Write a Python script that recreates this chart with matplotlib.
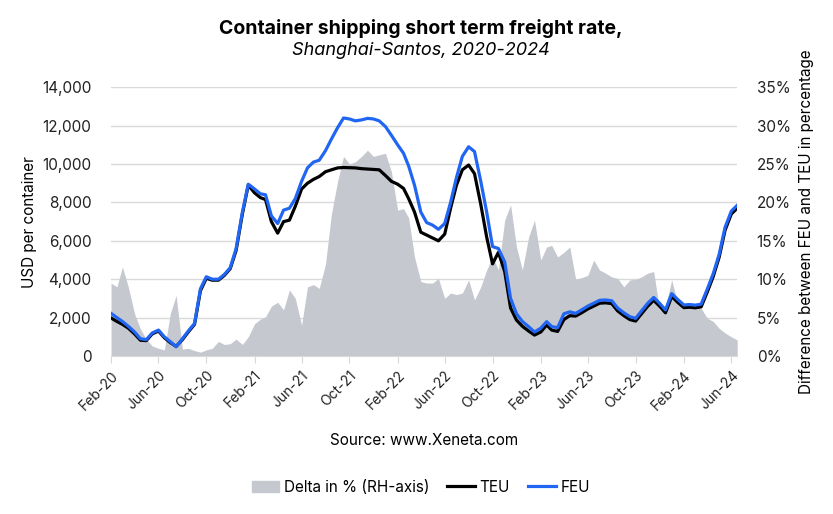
import matplotlib
matplotlib.use('Agg')
import matplotlib.pyplot as plt
import matplotlib.dates as mdates
from matplotlib.patches import Patch
from matplotlib.lines import Line2D
from matplotlib.ticker import FuncFormatter, MultipleLocator
import pandas as pd

plt.rcParams['font.family'] = ['Inter', 'DejaVu Sans']

# ========== data (semi-monthly, Feb-2020 .. Jun-2024) ==========
months = pd.date_range('2020-02-01', '2024-06-01', freq='MS')
dates = sorted(list(months) + list(months + pd.Timedelta(days=15)))

feu = [2220, 2000, 1800, 1550, 1250, 900, 850, 1200, 1350, 1000,
       750, 480, 900, 1300, 1700, 3500, 4130, 4000, 4000, 4250,
       4600, 5600, 7500, 8950, 8700, 8450, 8400, 7300, 6900, 7600,
       7700, 8200, 9100, 9800, 10100, 10200, 10700, 11300, 11900, 12400,
       12350, 12250, 12300, 12380, 12350, 12250, 11950, 11500, 11000, 10560,
       9900, 8900, 7500, 6950, 6820, 6600, 6900, 8000, 9300, 10400,
       10900, 10650, 9100, 7500, 5700, 5600, 4900, 3000, 2200, 1800,
       1530, 1250, 1450, 1790, 1530, 1480, 2200, 2300, 2220, 2400,
       2600, 2750, 2900, 2920, 2880, 2500, 2250, 2050, 1960, 2350,
       2750, 3050, 2750, 2400, 3250, 2950, 2660, 2680, 2650, 2700,
       3500, 4300, 5300, 6700, 7550, 7850]

teu = [1980, 1800, 1650, 1450, 1150, 820, 800, 1150, 1300, 950,
       700, 500, 850, 1250, 1650, 3400, 4050, 3950, 3950, 4200,
       4550, 5500, 7400, 8900, 8500, 8250, 8150, 7000, 6400, 7000,
       7080, 7800, 8700, 9000, 9200, 9350, 9600, 9700, 9800, 9820,
       9810, 9800, 9760, 9740, 9720, 9700, 9400, 9100, 8950, 8730,
       8200, 7500, 6450, 6300, 6150, 6000, 6350, 7700, 8900, 9700,
       9950, 9500, 7900, 6200, 4800, 5400, 4400, 2500, 1875, 1550,
       1300, 1090, 1250, 1615, 1350, 1280, 1900, 2100, 2080, 2250,
       2450, 2600, 2750, 2770, 2730, 2350, 2100, 1900, 1820, 2200,
       2600, 2900, 2600, 2250, 3100, 2800, 2520, 2540, 2510, 2560,
       3350, 4150, 5150, 6550, 7400, 7700]

delta = [9.5, 9.0, 11.6, 9.0, 5.5, 3.5, 2.2, 1.3, 1.0, 0.8,
         5.5, 7.9, 0.9, 1.0, 0.7, 0.5, 0.8, 1.0, 1.9, 1.5,
         1.6, 2.2, 1.5, 2.5, 4.2, 4.8, 5.1, 6.5, 7.0, 6.0,
         8.6, 7.5, 4.0, 9.0, 9.3, 8.8, 12.0, 18.5, 22.8, 26.0,
         25.0, 25.3, 26.0, 26.8, 26.0, 26.2, 26.4, 24.0, 19.0, 19.2,
         18.0, 12.9, 9.7, 9.5, 9.5, 10.1, 7.5, 8.2, 8.0, 8.2,
         9.9, 7.3, 9.0, 11.2, 12.9, 11.2, 17.7, 19.7, 14.2, 11.2,
         15.5, 17.7, 12.5, 14.2, 14.4, 12.9, 13.5, 14.2, 10.0, 10.2,
         10.5, 12.5, 11.2, 10.8, 10.3, 10.1, 9.0, 9.9, 10.0, 10.3,
         10.8, 11.0, 6.0, 6.5, 9.9, 6.9, 6.6, 6.6, 6.6, 6.2,
         4.9, 4.5, 3.6, 3.0, 2.5, 2.1]

xticks = pd.date_range('2020-02-01', '2024-06-01', freq='4MS')

# ========== plot ==========
fig = plt.figure(figsize=(8.33, 5.14), dpi=100)
ax = fig.add_axes([0.1333, 0.3074, 0.7517, 0.5228])
ax2 = ax.twinx()
ax.set_zorder(ax2.get_zorder() + 1)
ax.patch.set_visible(False)

grey = '#c5c8cf'
blue = '#2166f3'

# 差值面积 (右轴)
ax2.fill_between(dates, 0, delta, color=grey, linewidth=0, zorder=2)
ax2.set_ylim(0, 35)
ax2.yaxis.set_major_locator(MultipleLocator(5))
ax2.yaxis.set_major_formatter(FuncFormatter(lambda v, p: f'{v:.0f}%'))
ax2.grid(axis='y', color='#d9d9d9', linewidth=1, zorder=0)
ax2.set_axisbelow(True)
ax2.set_ylabel('Difference between FEU and TEU in percentage', fontsize=11, labelpad=6)

# 运价线 (左轴)
ax.plot(dates, teu, color='black', linewidth=2.3, zorder=3)
ax.plot(dates, feu, color=blue, linewidth=2.3, zorder=4)
ax.set_ylim(0, 14000)
ax.yaxis.set_major_locator(MultipleLocator(2000))
ax.yaxis.set_major_formatter(FuncFormatter(lambda v, p: f'{v:,.0f}'))
ax.set_ylabel('USD per container', fontsize=11, labelpad=4)

ax.set_xlim(dates[0], dates[-1])
ax.set_xticks(xticks)
ax.xaxis.set_major_formatter(mdates.DateFormatter('%b-%y'))
plt.setp(ax.get_xticklabels(), rotation=45, ha='right', rotation_mode='anchor')

for a in (ax, ax2):
    for s in a.spines.values():
        s.set_visible(False)
    a.tick_params(axis='y', length=0, labelsize=11, colors='#222222', pad=14)
ax.spines['bottom'].set_visible(True)
ax.spines['bottom'].set_color('#d9d9d9')
ax.tick_params(axis='x', length=5, labelsize=10, pad=4)
ax.tick_params(axis='x', labelcolor='#222222', color='#d9d9d9')
ax2.tick_params(axis='x', length=0)

fig.text(0.505, 0.945, 'Container shipping short term freight rate,',
         ha='center', va='center', fontsize=14, fontweight='bold')
fig.text(0.505, 0.902, 'Shanghai-Santos, 2020-2024',
         ha='center', va='center', fontsize=13, style='italic')
fig.text(0.509, 0.143, 'Source: www.Xeneta.com', ha='center', va='center', fontsize=11)

handles = [Patch(color=grey, label='Delta in % (RH-axis)'),
           Line2D([], [], color='black', linewidth=2.3, label='TEU'),
           Line2D([], [], color=blue, linewidth=2.3, label='FEU')]
fig.legend(handles=handles, loc='center', bbox_to_anchor=(0.505, 0.052), ncol=3,
           frameon=False, fontsize=11, handlelength=1.8, columnspacing=1.2,
           handletextpad=0.3)

plt.savefig('out.png', dpi=100)
